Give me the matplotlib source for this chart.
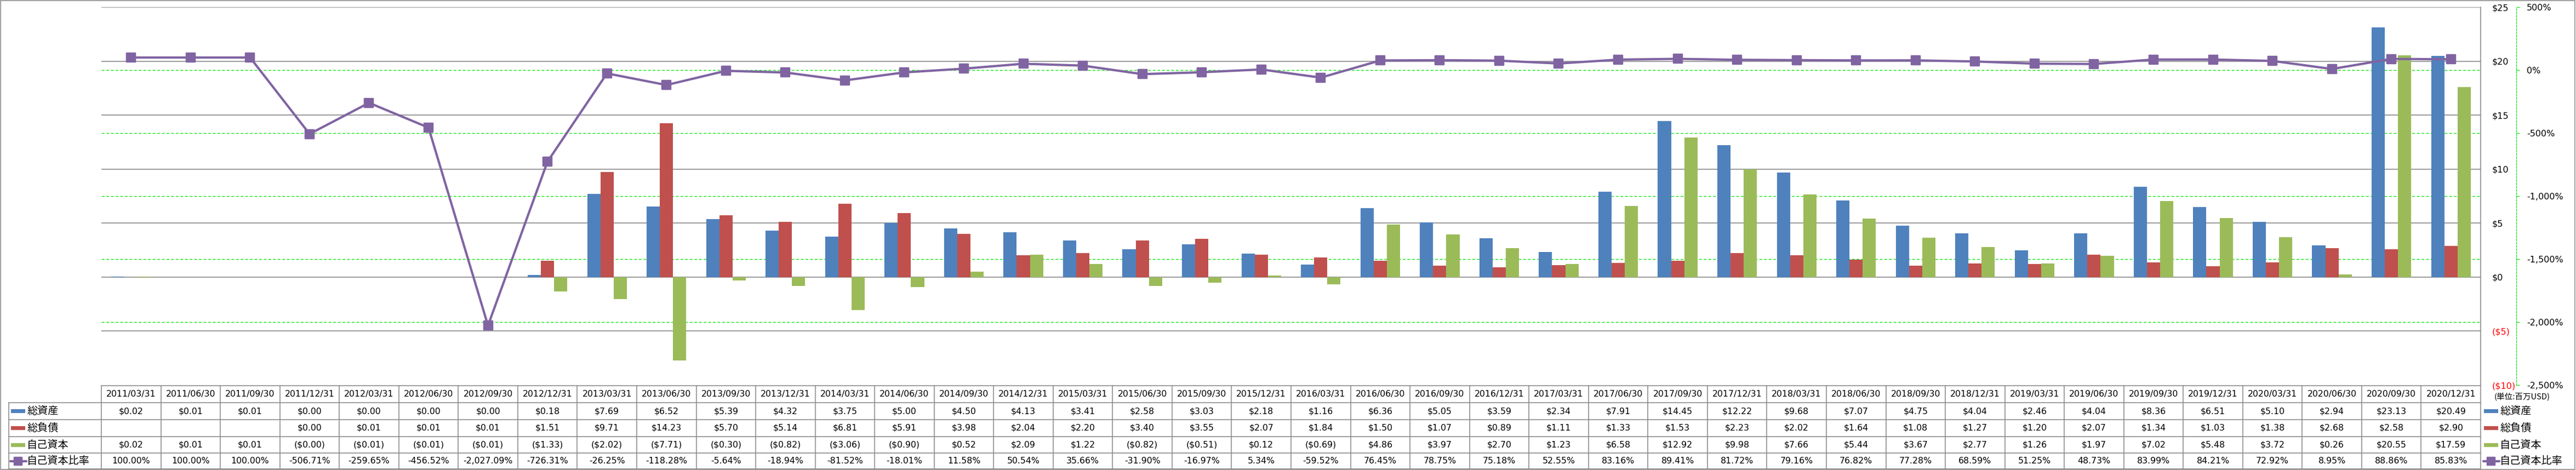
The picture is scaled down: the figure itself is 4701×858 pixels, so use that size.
import numpy as np
import matplotlib
matplotlib.use("Agg")
import matplotlib.pyplot as plt
from matplotlib.transforms import blended_transform_factory
from matplotlib.markers import MarkerStyle
from matplotlib.lines import Line2D
from matplotlib.patches import Rectangle

plt.rcParams['font.family'] = ['DejaVu Sans', 'Noto Sans CJK JP']

# ---------------- data ----------------
dates = ['2011/03/31', '2011/06/30', '2011/09/30', '2011/12/31', '2012/03/31', '2012/06/30',
         '2012/09/30', '2012/12/31', '2013/03/31', '2013/06/30', '2013/09/30', '2013/12/31',
         '2014/03/31', '2014/06/30', '2014/09/30', '2014/12/31', '2015/03/31', '2015/06/30',
         '2015/09/30', '2015/12/31', '2016/03/31', '2016/06/30', '2016/09/30', '2016/12/31',
         '2017/03/31', '2017/06/30', '2017/09/30', '2017/12/31', '2018/03/31', '2018/06/30',
         '2018/09/30', '2018/12/31', '2019/03/31', '2019/06/30', '2019/09/30', '2019/12/31',
         '2020/03/31', '2020/06/30', '2020/09/30', '2020/12/31']

total_assets = [0.02, 0.01, 0.01, 0.00, 0.00, 0.00, 0.00, 0.18, 7.69, 6.52,
                5.39, 4.32, 3.75, 5.00, 4.50, 4.13, 3.41, 2.58, 3.03, 2.18,
                1.16, 6.36, 5.05, 3.59, 2.34, 7.91, 14.45, 12.22, 9.68, 7.07,
                4.75, 4.04, 2.46, 4.04, 8.36, 6.51, 5.10, 2.94, 23.13, 20.49]

total_liabilities = [np.nan, np.nan, np.nan, 0.00, 0.01, 0.01, 0.01, 1.51, 9.71, 14.23,
                     5.70, 5.14, 6.81, 5.91, 3.98, 2.04, 2.20, 3.40, 3.55, 2.07,
                     1.84, 1.50, 1.07, 0.89, 1.11, 1.33, 1.53, 2.23, 2.02, 1.64,
                     1.08, 1.27, 1.20, 2.07, 1.34, 1.03, 1.38, 2.68, 2.58, 2.90]

equity = [0.02, 0.01, 0.01, -0.00, -0.01, -0.01, -0.01, -1.33, -2.02, -7.71,
          -0.30, -0.82, -3.06, -0.90, 0.52, 2.09, 1.22, -0.82, -0.51, 0.12,
          -0.69, 4.86, 3.97, 2.70, 1.23, 6.58, 12.92, 9.98, 7.66, 5.44,
          3.67, 2.77, 1.26, 1.97, 7.02, 5.48, 3.72, 0.26, 20.55, 17.59]

equity_ratio = [100.00, 100.00, 100.00, -506.71, -259.65, -456.52, -2027.09, -726.31, -26.25, -118.28,
                -5.64, -18.94, -81.52, -18.01, 11.58, 50.54, 35.66, -31.90, -16.97, 5.34,
                -59.52, 76.45, 78.75, 75.18, 52.55, 83.16, 89.41, 81.72, 79.16, 76.82,
                77.28, 68.59, 51.25, 48.73, 83.99, 84.21, 72.92, 8.95, 88.86, 85.83]

series_names = ['総資産', '総負債', '自己資本', '自己資本比率']
unit_label = '(単位:百万USD)'
usd_ticks = [-10, -5, 0, 5, 10, 15, 20, 25]
pct_ticks = [-2500, -2000, -1500, -1000, -500, 0, 500]

# ---------------- style ----------------
C_BLUE, C_RED, C_GREEN, C_PURPLE = '#4F81BD', '#C0504D', '#9BBB59', '#8064A2'
GRID_GRAY = '#878787'
LIME = '#00E600'
W, H = 4701, 858
DPI = 100
px = 72.0 / DPI  # points per pixel

fig = plt.figure(figsize=(W / DPI, H / DPI), dpi=DPI)
fig.patch.set_facecolor('white')

# plot area (pixel layout)
PL, PR, PT, PB = 185, 4527, 13, 703
ax = fig.add_axes([PL / W, 1 - PB / H, (PR - PL) / W, (PB - PT) / H])
ax.set_facecolor('none')
ax2 = ax.twinx()

n = len(dates)
x = np.arange(n)
bw = 0.222

ax.bar(x - bw, total_assets, bw, color=C_BLUE, zorder=3, linewidth=0)
ax.bar(x, total_liabilities, bw, color=C_RED, zorder=3, linewidth=0)
ax.bar(x + bw, equity, bw, color=C_GREEN, zorder=3, linewidth=0)

ax.set_xlim(-0.5, n - 0.5)
ax.set_ylim(usd_ticks[0], usd_ticks[-1])
ax.set_xticks([])
for t in usd_ticks[1:]:
    ax.axhline(t, color=GRID_GRAY, lw=1.6 * px, zorder=1)

ax.yaxis.tick_right()
ax.yaxis.set_label_position('right')
ax.set_yticks(usd_ticks)
ax.set_yticklabels([("($%d)" % abs(t)) if t < 0 else ("$%d" % t) for t in usd_ticks])
ax.tick_params(axis='y', which='both', left=False, labelleft=False, right=False,
               labelright=True, length=0, pad=21 * px, labelsize=11.5)
for t, lab in zip(usd_ticks, ax.get_yticklabels()):
    lab.set_color('#FF0000' if t < 0 else 'black')
for s in ['left', 'top', 'bottom']:
    ax.spines[s].set_visible(False)
ax.spines['right'].set_visible(True)
ax.spines['right'].set_color(GRID_GRAY)
ax.spines['right'].set_linewidth(1.6 * px)

# secondary axis
ax2.set_ylim(pct_ticks[0], pct_ticks[-1])
ax2.set_xlim(-0.5, n - 0.5)
ax2.set_yticks(pct_ticks)
ax2.set_yticklabels(["{:,}%".format(t) for t in pct_ticks])
ax2.tick_params(axis='y', length=6 * px, width=1.2 * px, color=LIME, direction='out',
                pad=13 * px, labelsize=11.5)
for t, lab in zip(pct_ticks, ax2.get_yticklabels()):
    lab.set_color('#FF0000' if t < 0 else 'black')
for s in ['left', 'top', 'bottom']:
    ax2.spines[s].set_visible(False)
ax2.spines['right'].set_position(('outward', 65 * px))
ax2.spines['right'].set_color(LIME)
ax2.spines['right'].set_linestyle((0, (3, 2)))
ax2.spines['right'].set_linewidth(1.2 * px)

# green dashed gridlines for secondary axis, behind bars (drawn in primary axes)
gtrans = blended_transform_factory(ax.transAxes, ax2.transData)
for t in pct_ticks[1:-1]:
    ax.add_line(Line2D([0, 1], [t, t], transform=gtrans, color=LIME, lw=1.3 * px,
                       linestyle=(0, (4, 2.5)), zorder=1.5))

mk = MarkerStyle('s', joinstyle='round')
ax2.plot(x, equity_ratio, color=C_PURPLE, lw=4.2 * px, marker=mk, markersize=12,
         markerfacecolor=C_PURPLE, markeredgecolor=C_PURPLE, markeredgewidth=2.5 * px,
         zorder=5, clip_on=False)

# ---------------- data table (overlay in pixel coords) ----------------
ov = fig.add_axes([0, 0, 1, 1], zorder=-1)
ov.set_xlim(0, W)
ov.set_ylim(H, 0)
ov.axis('off')
tt = blended_transform_factory(ax.transData, ov.transData)

TBL_COLOR = '#8A8A8A'
lw_t = 1.6 * px
row_edges = [704, 735, 766, 797, 827, 856]
row_centers = [(a + b) / 2 for a, b in zip(row_edges[:-1], row_edges[1:])]

# header top
ov.add_line(Line2D([-0.5, n - 0.5], [row_edges[0]] * 2, transform=tt, color=TBL_COLOR, lw=lw_t))
# row lines (from label column's left edge to table end)
for y in row_edges[1:]:
    ov.plot([16, PR], [y, y], color=TBL_COLOR, lw=lw_t)
ov.plot([16, 16], [row_edges[1], row_edges[-1]], color=TBL_COLOR, lw=lw_t)
for k in range(n + 1):
    ov.add_line(Line2D([k - 0.5, k - 0.5], [row_edges[0], row_edges[-1]], transform=tt,
                       color=TBL_COLOR, lw=lw_t))


def fmt_usd(v):
    if v is None or (isinstance(v, float) and np.isnan(v)):
        return ''
    if v < 0 or np.signbit(v):
        return '(${:.2f})'.format(abs(v))
    return '${:.2f}'.format(v)


def fmt_pct(v):
    return '{:,.2f}%'.format(v)


FS = 11.3
for i in range(n):
    ov.text(i, row_centers[0], dates[i], transform=tt, ha='center', va='center', fontsize=FS)
    ov.text(i, row_centers[1], fmt_usd(total_assets[i]), transform=tt, ha='center', va='center', fontsize=FS)
    ov.text(i, row_centers[2], fmt_usd(total_liabilities[i]), transform=tt, ha='center', va='center', fontsize=FS)
    ov.text(i, row_centers[3], fmt_usd(equity[i]), transform=tt, ha='center', va='center', fontsize=FS)
    ov.text(i, row_centers[4], fmt_pct(equity_ratio[i]), transform=tt, ha='center', va='center', fontsize=FS)

colors = [C_BLUE, C_RED, C_GREEN]
JP = ['Noto Sans CJK JP', 'DejaVu Sans']


def legend_key(x0, yc, idx):
    if idx < 3:
        ov.add_patch(Rectangle((x0, yc - 3.5), 26, 7, color=colors[idx], lw=0))
    else:
        ov.plot([x0 - 1, x0 + 28], [yc, yc], color=C_PURPLE, lw=4.2 * px, solid_capstyle='round')
        ov.plot([x0 + 13.5], [yc], marker=MarkerStyle('s', joinstyle='round'), markersize=10,
                color=C_PURPLE, markeredgewidth=2.5 * px)


for j, name in enumerate(series_names):
    yc = row_centers[j + 1]
    legend_key(20, yc, j)
    ov.text(49, yc, name, ha='left', va='center', fontsize=13.8, family=JP)
    legend_key(4533, yc, j)
    ov.text(4562, yc, name, ha='left', va='center', fontsize=13.8, family=JP)

ov.text(4603, 725, unit_label, ha='center', va='center', fontsize=10.5, family=JP)

# outer border
ov.add_patch(Rectangle((1, 1), W - 2.5, H - 2.5, fill=False, edgecolor='#8C8C8C', lw=1.6 * px))

fig.savefig('out.png', dpi=DPI)
